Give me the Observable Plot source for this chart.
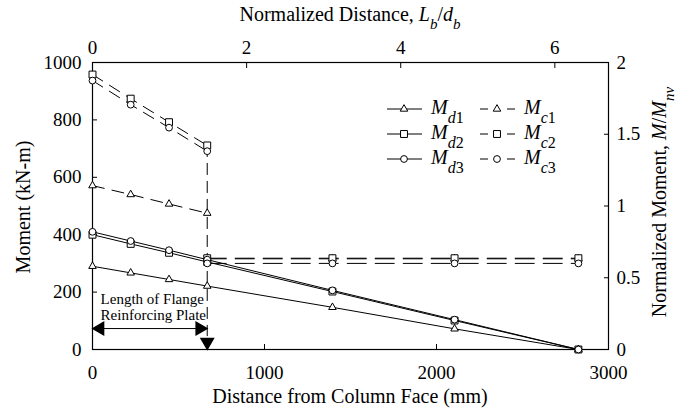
<!DOCTYPE html>
<html><head><meta charset="utf-8">
<script src="https://cdn.jsdelivr.net/npm/d3@7"></script>
<script src="https://cdn.jsdelivr.net/npm/@observablehq/plot@0.6"></script>
<style>
body{margin:0;background:#fff}
#chart svg, #chart svg text{font-family:"Liberation Serif","Times New Roman",Tinos,Times,"DejaVu Serif","Noto Serif",serif !important}
</style>
</head><body><div id="chart"></div>
<script>
// ---- data ----
const distance = [0, 222, 445, 667, 1395, 2105, 2825];
const Md1 = [290, 267, 244, 221, 147, 72, 0];
const Md2 = [400, 368, 337, 305, 202, 101, 0];
const Md3 = [410, 378, 346, 313, 206, 104, 0];
const mcDistance = [0, 222, 445, 667, 667, 1395, 2105, 2825];
const mcSegment = ["plate", "plate", "plate", "plate", "beam", "beam", "beam", "beam"];
const Mc1 = [571, 540, 507, 475, 316, 316, 316, 316];
const Mc2 = [958, 874, 792, 711, 318, 318, 318, 318];
const Mc3 = [937, 853, 773, 691, 300, 300, 300, 300];
const plateEnd = 667;
const beamDepth = 448;   // d_b (mm)
const Mnv = 500;         // kN-m
const xTicks = [0, 1000, 2000, 3000];
const yTicks = [0, 200, 400, 600, 800, 1000];
const topTicks = [0, 2, 4, 6];
const rightTicks = [0, 0.5, 1, 1.5, 2];
const annotationLines = ["Length of Flange", "Reinforcing Plate"];
const annotationY = [174, 118];
const arrowY = 73;

const seriesInfo = [
  {key: "Md1", sub: "d", num: "1", shape: "triangle", dashed: false, xs: distance, ys: Md1},
  {key: "Md2", sub: "d", num: "2", shape: "square", dashed: false, xs: distance, ys: Md2},
  {key: "Md3", sub: "d", num: "3", shape: "circle", dashed: false, xs: distance, ys: Md3},
  {key: "Mc1", sub: "c", num: "1", shape: "triangle", dashed: true, xs: mcDistance, ys: Mc1},
  {key: "Mc2", sub: "c", num: "2", shape: "square", dashed: true, xs: mcDistance, ys: Mc2},
  {key: "Mc3", sub: "c", num: "3", shape: "circle", dashed: true, xs: mcDistance, ys: Mc3}
];
const rows = seriesInfo.flatMap(s => s.xs.map((x, i) => ({
  series: s.key, seg: s.dashed ? mcSegment[i] : "", shape: s.shape, dashed: s.dashed, x, y: s.ys[i]
})));
const solidRows = rows.filter(d => !d.dashed);
const plateRows = rows.filter(d => d.dashed && d.seg === "plate");
const beamRows = rows.filter(d => d.dashed && d.seg === "beam");
const plateTop = d3.max([Mc1[3], Mc2[3], Mc3[3]]);
const shapeR = {triangle: 2.8, square: 3.9, circle: 3.4};
const fs = 19;
const FONT = "Liberation Serif, Times New Roman, Tinos, Times, DejaVu Serif, serif";

const dotMarks = ["triangle", "square", "circle"].map(shape =>
  Plot.dot(rows.filter(d => d.shape === shape), {x: "x", y: "y", symbol: shape, r: shapeR[shape], stroke: "black", fill: "white", strokeWidth: 1})
);

const plot = Plot.plot({
  width: 676, height: 416,
  marginLeft: 92, marginRight: 68, marginTop: 62, marginBottom: 67,
  x: {domain: [0, 3000]},
  y: {domain: [0, 1000]},
  style: {fontFamily: FONT, background: "white", color: "black"},
  marks: [
    Plot.frame({stroke: "black", strokeWidth: 1.2}),
    Plot.axisX({ticks: xTicks, tickSize: -5, tickPadding: 21, fontSize: fs, label: null, tickFormat: d3.format("d")}),
    Plot.axisX({anchor: "top", ticks: topTicks.map(v => v * beamDepth), tickSize: -5, tickPadding: 14, fontSize: fs, label: null, tickFormat: v => d3.format("d")(Math.round(v / beamDepth))}),
    Plot.axisY({ticks: yTicks, tickSize: -5, tickPadding: 16, fontSize: fs, label: null, tickFormat: d3.format("d")}),
    Plot.axisY({anchor: "right", ticks: rightTicks.map(v => v * Mnv), tickSize: -5, tickPadding: 13, fontSize: fs, label: null, tickFormat: v => String(v / Mnv)}),
    Plot.line(solidRows, {x: "x", y: "y", z: "series", stroke: "black", strokeWidth: 1}),
    Plot.line(plateRows, {x: "x", y: "y", z: "series", stroke: "black", strokeWidth: 1, strokeDasharray: "12,8"}),
    Plot.line(beamRows, {x: "x", y: "y", z: "series", stroke: "black", strokeWidth: 1, strokeDasharray: "19,9"}),
    // plate end: dashed drop line down to the arrow
    Plot.ruleX([plateEnd], {y1: plateTop, y2: 45, stroke: "black", strokeDasharray: "12,6"}),
    Plot.dot([{x: plateEnd, y: 0}], {x: "x", y: "y", symbol: "triangle", r: 4.6, rotate: 180, fill: "black", stroke: "black", dy: -7.5}),
    // length double arrow
    Plot.line([{x: 0, y: arrowY}, {x: plateEnd, y: arrowY}], {x: "x", y: "y", stroke: "black", strokeWidth: 1}),
    Plot.dot([{x: 0, y: arrowY}], {x: "x", y: "y", symbol: "triangle", r: 4.6, rotate: -90, fill: "black", stroke: "black", dx: 7.5}),
    Plot.dot([{x: plateEnd, y: arrowY}], {x: "x", y: "y", symbol: "triangle", r: 4.6, rotate: 90, fill: "black", stroke: "black", dx: -7.5}),
    Plot.text(annotationLines, {x: 47, y: (d, i) => annotationY[i], text: d => d, textAnchor: "start", fontSize: 15, fill: "black", fontFamily: FONT}),
    ...dotMarks
  ]
});

const svg = d3.select(plot);
svg.attr("font-family", FONT);

// axis titles with italics / subscripts
function rich(parent, parts, attrs) {
  const t = parent.append("text").attr("fill", "black").attr("font-size", 20).attr("font-family", FONT).attr("text-anchor", "start");
  for (const [k, v] of Object.entries(attrs)) t.attr(k, v);
  for (const p of parts) {
    const ts = t.append("tspan").text(p.t);
    if (p.i) ts.attr("font-style", "italic");
    if (p.sub) ts.attr("baseline-shift", "sub").attr("font-size", p.size || "0.75em");
  }
  return t;
}
rich(svg, [{t: "Distance from Column Face (mm)"}], {x: 350, y: 403, "text-anchor": "middle"});
rich(svg, [{t: "Normalized Distance, "}, {t: "L", i: 1}, {t: "b", i: 1, sub: 1}, {t: "/"}, {t: "d", i: 1}, {t: "b", i: 1, sub: 1}], {x: 350, y: 21, "text-anchor": "middle"});
rich(svg, [{t: "Moment (kN-m)"}], {transform: "translate(30,207) rotate(-90)", "text-anchor": "middle"});
rich(svg, [{t: "Normalized Moment, "}, {t: "M", i: 1}, {t: "/"}, {t: "M", i: 1}, {t: "nv", i: 1, sub: 1}], {transform: "translate(666,202) rotate(-90)", "text-anchor": "middle"});

// legend
const legend = svg.append("g");
const symGen = {triangle: d3.symbolTriangle, square: d3.symbolSquare, circle: d3.symbolCircle};
seriesInfo.forEach((s, i) => {
  const col = s.dashed ? 1 : 0, row = i % 3;
  const x0 = col ? 480 : 387, y0 = 109 + row * 25;
  if (s.dashed) {
    legend.append("line").attr("x1", x0).attr("x2", x0 + 8).attr("y1", y0).attr("y2", y0).attr("stroke", "black");
    legend.append("line").attr("x1", x0 + 27).attr("x2", x0 + 35).attr("y1", y0).attr("y2", y0).attr("stroke", "black");
  } else {
    legend.append("line").attr("x1", x0).attr("x2", x0 + 35).attr("y1", y0).attr("y2", y0).attr("stroke", "black");
  }
  legend.append("path").attr("transform", `translate(${x0 + 17},${y0})`)
    .attr("d", d3.symbol(symGen[s.shape], Math.PI * shapeR[s.shape] ** 2)())
    .attr("fill", "white").attr("stroke", "black");
  rich(legend, [{t: "M", i: 1}, {t: s.sub, i: 1, sub: 1, size: "0.8em"}, {t: s.num, sub: 1, size: "0.8em"}], {x: x0 + 44, y: y0 + 5, "font-size": 20});
});

document.getElementById("chart").appendChild(plot);
</script>
</body></html>
